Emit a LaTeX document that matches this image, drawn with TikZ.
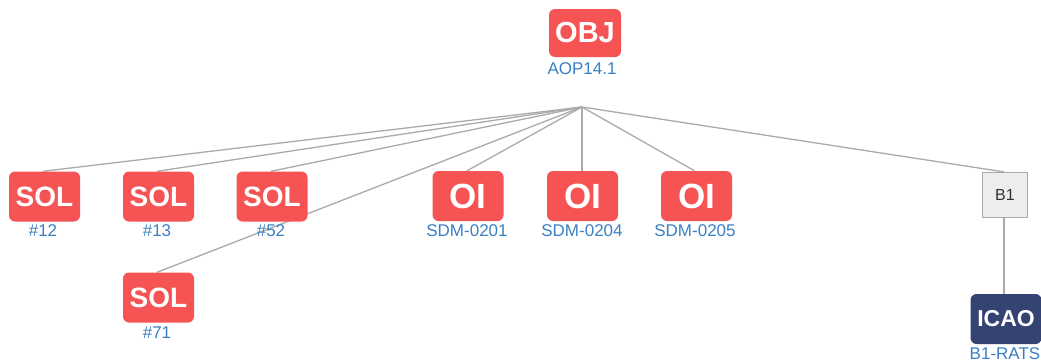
\documentclass[tikz,border=0pt]{standalone}
\usepackage{fontspec}
\setmainfont{Liberation Sans}
\usetikzlibrary{backgrounds}
\definecolor{boxred}{HTML}{F65454}
\definecolor{navy}{HTML}{344372}
\definecolor{lbl}{HTML}{3A80C3}
\definecolor{conn}{HTML}{AAAAAA}
\begin{document}
\begin{tikzpicture}[x=1pt,y=-1pt,
  redbox/.style={fill=boxred,text=white,rounded corners=6pt,inner sep=0pt,
    minimum width=71pt,minimum height=50pt,font=\bfseries},
  navybox/.style={redbox,fill=navy},
  graybox/.style={draw=conn,line width=1.2pt,fill=black!7,text=black!80,inner sep=0pt,
    minimum width=45pt,minimum height=45pt,font=\fontsize{16}{18}\selectfont},
  lab/.style={text=lbl,inner sep=0pt,font=\fontsize{17}{19}\selectfont},
  edge/.style={draw=conn,line width=1.3pt}]
\useasboundingbox (0,0) rectangle (1041,362);
\coordinate (hub) at (582,107);
% nodes
\node[redbox,minimum height=48pt,minimum width=72pt,font=\fontsize{29}{30}\bfseries] (obj) at (585,33) {OBJ};
\node[lab] (objl) at (582,69) {AOP14.1};
\node[redbox,font=\fontsize{28}{30}\bfseries] (s12) at (44.5,196.5) {SOL};
\node[lab] (s12l) at (43,231) {\#12};
\node[redbox,font=\fontsize{28}{30}\bfseries] (s13) at (158.5,196.5) {SOL};
\node[lab] (s13l) at (157,231) {\#13};
\node[redbox,font=\fontsize{28}{30}\bfseries] (s52) at (272,196.5) {SOL};
\node[lab] (s52l) at (271,231) {\#52};
\node[redbox,font=\fontsize{28}{30}\bfseries] (s71) at (158.5,297.5) {SOL};
\node[lab] (s71l) at (157,333) {\#71};
\node[redbox,font=\fontsize{35}{36}\bfseries] (o1) at (468,196) {OI};
\node[lab] (o1l) at (467,231) {SDM-0201};
\node[redbox,font=\fontsize{35}{36}\bfseries] (o2) at (582.5,196) {OI};
\node[lab] (o2l) at (582,231) {SDM-0204};
\node[redbox,font=\fontsize{35}{36}\bfseries] (o3) at (696.5,196) {OI};
\node[lab] (o3l) at (695,231) {SDM-0205};
\node[graybox] (b1) at (1005,195) {B1};
\node[navybox,font=\fontsize{23}{25}\bfseries] (icao) at (1006,319) {ICAO};
\node[lab] (icaol) at (1005,354) {B1-RATS};
% connectors
\begin{scope}[on background layer]
\draw[edge] (hub) -- ([xshift=-1.5pt]s12.north);
\draw[edge] (hub) -- ([xshift=-1.5pt]s13.north);
\draw[edge] (hub) -- ([xshift=-1pt]s52.north);
\draw[edge] (hub) -- ([xshift=-1.5pt]s71.north);
\draw[edge] (hub) -- ([xshift=-1pt]o1.north);
\draw[edge] (hub) -- (hub |- o2.north);
\draw[edge] (hub) -- ([xshift=-2pt]o3.north);
\draw[edge] (hub) -- ([xshift=-1pt]b1.north);
\draw[edge] ([xshift=-1pt]b1.south) -- ([xshift=-1pt]b1.south |- icao.north);
\end{scope}
\end{tikzpicture}
\end{document}
